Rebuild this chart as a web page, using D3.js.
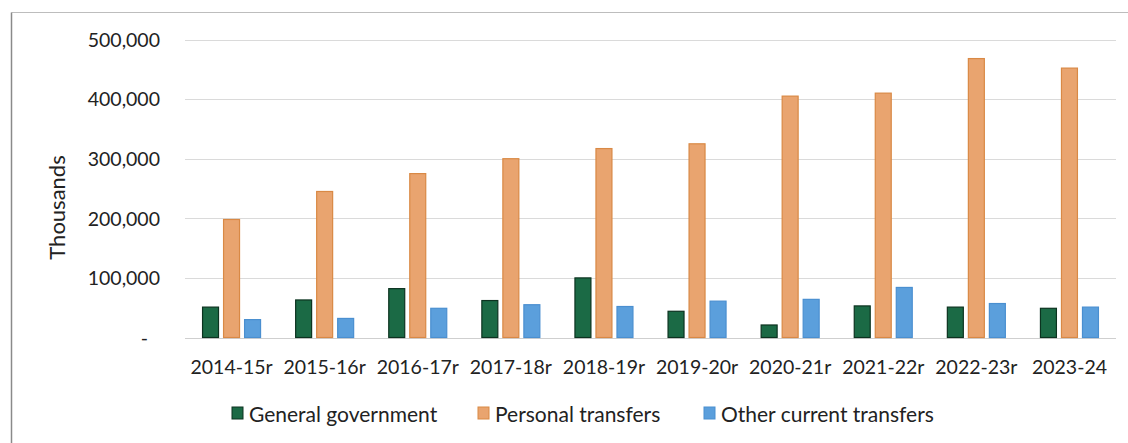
<!DOCTYPE html>
<html><head><meta charset="utf-8">
<script src="https://cdn.jsdelivr.net/npm/d3@7"></script>
<style>
html,body{margin:0;padding:0;background:#fff;}
svg{display:block;font-family:Lato, "Open Sans", sans-serif;}
</style></head>
<body>
<svg id="chart" width="1128" height="443"></svg>
<script>
const categories = ["2014-15r","2015-16r","2016-17r","2017-18r","2018-19r","2019-20r","2020-21r","2021-22r","2022-23r","2023-24"];
const seriesNames = ["General government","Personal transfers","Other current transfers"];
const generalGovernment = [51000, 63000, 82000, 62000, 100000, 44000, 21000, 53000, 51000, 49000];
const personalTransfers = [198000, 245000, 275000, 300000, 317000, 325000, 405000, 410000, 468000, 452000];
const otherCurrentTransfers = [30000, 32000, 49000, 55000, 52000, 61000, 64000, 84000, 57000, 51000];
const yTicks = [0, 100000, 200000, 300000, 400000, 500000];
const yLabel = "Thousands";

const seriesValues = [generalGovernment, personalTransfers, otherCurrentTransfers];
const fills = ["#1b6a45", "#e9a46f", "#5b9fdc"];
const strokes = ["#0c3320", "#d98945", "#4a8fd0"];

const svg = d3.select("#chart");
const W = 1128, H = 443;
const plot = {left:185, right:1116, top:39.5, bottom:337.5};

// frame
svg.append("line").attr("x1",11.5).attr("x2",W).attr("y1",12.5).attr("y2",12.5).attr("stroke","#bdbdbd").attr("stroke-width",1);
svg.append("line").attr("x1",11.5).attr("x2",11.5).attr("y1",12.5).attr("y2",H).attr("stroke","#8a8a8a").attr("stroke-width",1.5);

const x0 = d3.scaleBand().domain(categories).range([plot.left, plot.right]).padding(0);
const groupW = 58;
const x1 = d3.scaleBand().domain(seriesNames).range([0, groupW]).paddingInner(0.24);
const y = d3.scaleLinear().domain([0, 500000]).range([plot.bottom, plot.top]);

// gridlines
svg.append("g").selectAll("line").data(yTicks).join("line")
  .attr("x1", plot.left).attr("x2", plot.right)
  .attr("y1", d => Math.round(y(d)) + 0.5).attr("y2", d => Math.round(y(d)) + 0.5)
  .attr("stroke", d => d === 0 ? "#cfcfcf" : "#dadada").attr("stroke-width", 1.2);

// y axis labels
const fmt = d3.format(",");
const yAxis = d3.axisLeft(y).tickValues(yTicks).tickSize(0).tickPadding(0)
  .tickFormat(d => d === 0 ? "-" : fmt(d));
const yg = svg.append("g").attr("transform", `translate(160,0)`).call(yAxis);
yg.select(".domain").remove();
yg.selectAll("text").attr("font-size", 19.5).attr("fill", "#222").attr("font-family","Lato, sans-serif").attr("dy","0.35em");
yg.selectAll("text").filter(d => d === 0).attr("dx", -12);

// y title
svg.append("text").attr("transform", `translate(65,${(plot.top+plot.bottom)/2 + 19}) rotate(-90)`)
  .attr("text-anchor","middle").attr("font-size", 22).attr("fill","#222").text(yLabel);

// bars
const groups = svg.append("g").selectAll("g").data(categories).join("g")
  .attr("transform", d => `translate(${x0(d) + x0.bandwidth()/2 - groupW/2},0)`);
groups.selectAll("rect").data((d, i) => seriesNames.map((s, k) => ({s, k, v: seriesValues[k][i]})))
  .join("rect")
  .attr("x", d => x1(d.s)).attr("width", x1.bandwidth())
  .attr("y", d => y(d.v)).attr("height", d => y(0) - y(d.v))
  .attr("fill", d => fills[d.k]).attr("stroke", d => strokes[d.k]).attr("stroke-width", 1.2);

// x axis labels
const xAxis = d3.axisBottom(x0).tickSize(0).tickPadding(0);
const xg = svg.append("g").attr("transform", `translate(0,${plot.bottom})`).call(xAxis);
xg.select(".domain").remove();
xg.selectAll("text").attr("font-size", 19.5).attr("fill","#222").attr("font-family","Lato, sans-serif").attr("dy", null).attr("y", 36);

// legend
const legendX = [232, 478, 704];
const lg = svg.append("g").selectAll("g").data(seriesNames).join("g")
  .attr("transform", (d, i) => `translate(${legendX[i]},0)`);
lg.append("rect").attr("x",0).attr("y",407).attr("width",11).attr("height",12)
  .attr("fill", (d,i) => fills[i]).attr("stroke", (d,i) => strokes[i]).attr("stroke-width",1);
lg.append("text").attr("x",17).attr("y",422).attr("font-size",21).attr("fill","#222").text(d => d);
</script>
</body></html>
